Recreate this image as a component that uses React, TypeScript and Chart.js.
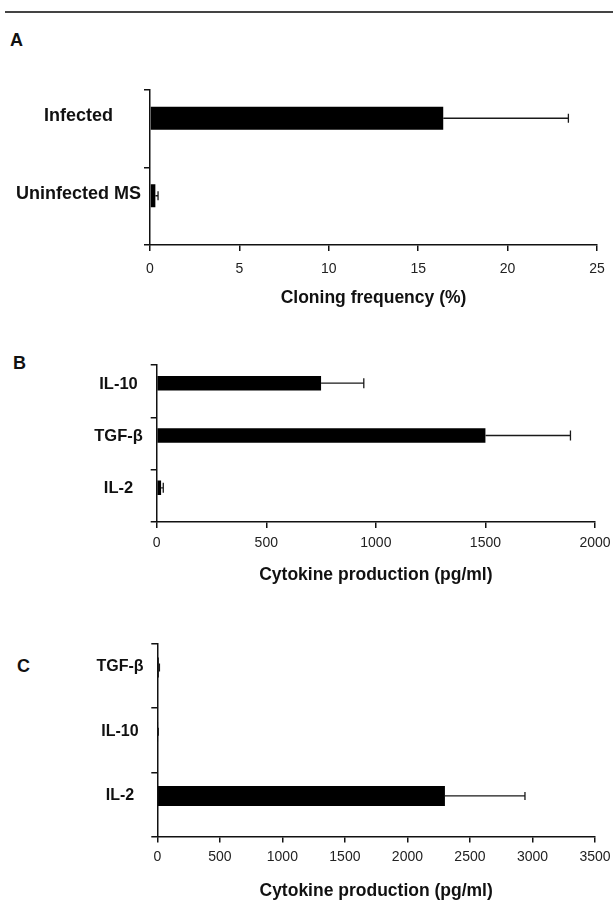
import React, { useEffect, useRef } from "react";
import { Chart, registerables } from "chart.js";

Chart.register(...registerables);

const FONT = "'Liberation Sans', Arial, Helvetica, sans-serif";

// ---------- Panel A data ----------
const categoriesA = ["Infected", "Uninfected MS"];
const valuesA = [16.4, 0.3];
const errorsA = [7.0, 0.15];
const axisMaxA = 25;
const axisStepA = 5;
const axisTitleA = "Cloning frequency (%)";

// ---------- Panel B data ----------
const categoriesB = ["IL-10", "TGF-β", "IL-2"];
const valuesB = [750, 1500, 20];
const errorsB = [195, 388, 10];
const axisMaxB = 2000;
const axisStepB = 500;
const axisTitleB = "Cytokine production (pg/ml)";

// ---------- Panel C data ----------
const categoriesC = ["TGF-β", "IL-10", "IL-2"];
const valuesC = [12, 4, 2300];
const errorsC = [5, 4, 640];
const axisMaxC = 3500;
const axisStepC = 500;
const axisTitleC = "Cytokine production (pg/ml)";

type PanelCfg = {
  cats: string[];
  vals: number[];
  errs: number[];
  max: number;
  step: number;
  title: string;
  // layout
  canvasTop: number;
  canvasH: number;
  padTop: number;
  padRight: number;
  padBottom: number;
  yWidth: number;
  xAxisH: number;
  catPct: number;
  barPct: number;
  catFont: number;
  catPad: number;
  labelOffset: number;
  tickPad: number;
  capHalf: number;
};

const panels: PanelCfg[] = [
  {
    cats: categoriesA, vals: valuesA, errs: errorsA, max: axisMaxA, step: axisStepA, title: axisTitleA,
    canvasTop: 60, canvasH: 260, padTop: 30, padRight: 16, padBottom: 260 - 30 - 155 - 61.75,
    yWidth: 150, xAxisH: 61.75, catPct: 0.542, barPct: 1.095, catFont: 18, catPad: 3,
    labelOffset: -12.5, tickPad: 9.5, capHalf: 4.5,
  },
  {
    cats: categoriesB, vals: valuesB, errs: errorsB, max: axisMaxB, step: axisStepB, title: axisTitleB,
    canvasTop: 340, canvasH: 260, padTop: 25, padRight: 18, padBottom: 260 - 25 - 157 - 61.75,
    yWidth: 156.7, xAxisH: 61.75, catPct: 0.611, barPct: 0.906, catFont: 16.5, catPad: 7.9,
    labelOffset: -7, tickPad: 6.9, capHalf: 5,
  },
  {
    cats: categoriesC, vals: valuesC, errs: errorsC, max: axisMaxC, step: axisStepC, title: axisTitleC,
    canvasTop: 620, canvasH: 281, padTop: 24, padRight: 18, padBottom: 281 - 24 - 192.5 - 63.25,
    yWidth: 157.3, xAxisH: 63.25, catPct: 0.53, barPct: 1.176, catFont: 16, catPad: 7.8,
    labelOffset: -9, tickPad: 6.6, capHalf: 4,
  },
];

function makeErrorPlugin(vals: number[], errs: number[], capHalf: number) {
  return {
    id: "errorBars",
    afterDatasetsDraw(chart: any) {
      const meta = chart.getDatasetMeta(0);
      const xs = chart.scales.x;
      const ctx = chart.ctx;
      ctx.save();
      ctx.strokeStyle = "#1a1a1a";
      ctx.lineWidth = 1.3;
      meta.data.forEach((bar: any, i: number) => {
        const x0 = xs.getPixelForValue(vals[i]);
        const x1 = xs.getPixelForValue(vals[i] + errs[i]);
        const y = bar.y;
        ctx.beginPath();
        ctx.moveTo(x0, y);
        ctx.lineTo(x1, y);
        ctx.moveTo(x1, y - capHalf);
        ctx.lineTo(x1, y + capHalf);
        ctx.stroke();
      });
      ctx.restore();
    },
  };
}

function BarPanel({ cfg }: { cfg: PanelCfg }) {
  const ref = useRef<HTMLCanvasElement>(null);
  useEffect(() => {
    if (!ref.current) return;
    const axisColor = "#111";
    const chart = new Chart(ref.current, {
      type: "bar",
      data: {
        labels: cfg.cats,
        datasets: [
          {
            data: cfg.vals,
            backgroundColor: "#000",
            borderWidth: 0,
            categoryPercentage: cfg.catPct,
            barPercentage: cfg.barPct,
          },
          {
            data: cfg.cats.map(() => 0),
            backgroundColor: "rgba(0,0,0,0)",
            borderWidth: 0,
            categoryPercentage: cfg.catPct,
            barPercentage: cfg.barPct,
          },
        ],
      },
      options: {
        indexAxis: "y",
        responsive: false,
        animation: false,
        devicePixelRatio: 1,
        layout: { padding: { top: cfg.padTop, right: cfg.padRight, bottom: cfg.padBottom, left: 0 } },
        plugins: { legend: { display: false }, tooltip: { enabled: false } },
        scales: {
          x: {
            type: "linear",
            min: 0,
            max: cfg.max,
            ticks: {
              stepSize: cfg.step,
              padding: cfg.tickPad,
              maxRotation: 0,
              autoSkip: false,
              color: "#222",
              font: { family: FONT, size: 14 },
              callback: (v: any) => String(v),
            },
            grid: {
              drawOnChartArea: false,
              drawTicks: true,
              tickLength: 6,
              color: axisColor,
              lineWidth: 1.5,
            },
            border: { display: true, color: axisColor, width: 1.5 },
            title: {
              display: true,
              text: cfg.title,
              color: "#111",
              padding: 0,
              font: { family: FONT, size: 17.5, weight: "bold", lineHeight: 1 },
            },
            afterFit: (s: any) => {
              s.height = cfg.xAxisH;
              s.paddingLeft = 0;
              s.paddingRight = 0;
            },
          },
          y: {
            type: "category",
            offset: true,
            ticks: {
              crossAlign: "center",
              padding: cfg.catPad,
              labelOffset: cfg.labelOffset,
              color: "#111",
              font: { family: FONT, size: cfg.catFont, weight: "bold" },
            },
            grid: {
              offset: true,
              drawOnChartArea: false,
              drawTicks: true,
              tickLength: 6,
              color: axisColor,
              lineWidth: 1.5,
            },
            border: { display: true, color: axisColor, width: 1.5 },
            afterFit: (s: any) => {
              s.width = cfg.yWidth;
              s.paddingTop = 0;
              s.paddingBottom = 0;
            },
          },
        },
      } as any,
      plugins: [makeErrorPlugin(cfg.vals, cfg.errs, cfg.capHalf)],
    });
    return () => chart.destroy();
  }, [cfg]);
  return (
    <canvas
      ref={ref}
      width={613}
      height={cfg.canvasH}
      style={{ position: "absolute", left: 0, top: cfg.canvasTop, width: 613, height: cfg.canvasH }}
    />
  );
}

const letterStyle: React.CSSProperties = {
  position: "absolute",
  fontFamily: FONT,
  fontWeight: "bold",
  fontSize: 18,
  lineHeight: "18px",
  color: "#111",
};

export default function App() {
  return (
    <div
      style={{
        position: "absolute",
        left: 0,
        top: 0,
        width: 613,
        height: 901,
        overflow: "hidden",
        background: "#fff",
      }}
    >
      <div style={{ position: "absolute", left: 5, top: 11, width: 608, height: 2, background: "#444" }} />
      <div style={{ ...letterStyle, left: 10, top: 31 }}>A</div>
      <div style={{ ...letterStyle, left: 13, top: 353.5 }}>B</div>
      <div style={{ ...letterStyle, left: 17, top: 657 }}>C</div>
      {panels.map((p, i) => (
        <BarPanel key={i} cfg={p} />
      ))}
    </div>
  );
}
